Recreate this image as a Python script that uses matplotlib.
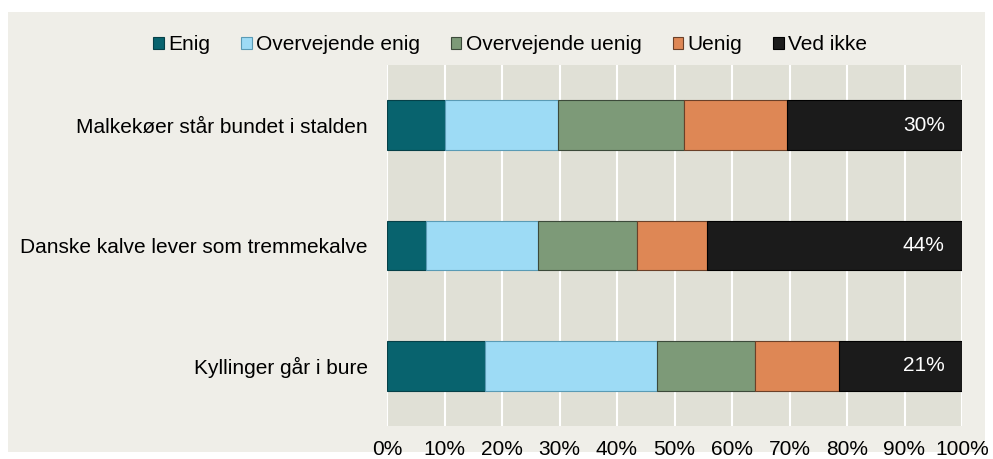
import matplotlib
matplotlib.use("Agg")
import matplotlib.pyplot as plt
from matplotlib.patches import Rectangle
import numpy as np

plt.rcParams['font.family'] = ['Liberation Sans', 'DejaVu Sans']

categories = ["Malkekøer står bundet i stalden",
              "Danske kalve lever som tremmekalve",
              "Kyllinger går i bure"]
series_names = ["Enig", "Overvejende enig", "Overvejende uenig", "Uenig", "Ved ikke"]
enig = [10.0, 6.8, 17.0]
overv_enig = [19.7, 19.5, 30.0]
overv_uenig = [22.0, 17.2, 17.0]
uenig = [17.9, 12.1, 14.6]
ved_ikke = [30.4, 44.4, 21.4]
xtick_labels = ["0%", "10%", "20%", "30%", "40%", "50%", "60%", "70%", "80%", "90%", "100%"]

colors = ["#08636E", "#9DDBF5", "#7D9A78", "#DE8755", "#1B1B1B"]
edges = ["#054048", "#5a9bb5", "#3c4a3a", "#6b4028", "#000000"]

fig = plt.figure(figsize=(9.93, 4.59), dpi=100, facecolor="white")
fig.patches.append(Rectangle((8/993, 7/459), 977/993, 440/459, transform=fig.transFigure,
                             facecolor="#EFEEE8", edgecolor="none", zorder=-10))
ax = fig.add_axes([387/993, 1 - 426/459, 575/993, 361/459])
ax.set_facecolor("#E0E0D6")

y = np.arange(len(categories))
left = np.zeros(len(categories))
all_series = [enig, overv_enig, overv_uenig, uenig, ved_ikke]
for name, vals, c, ec in zip(series_names, all_series, colors, edges):
    ax.barh(y, vals, left=left, height=0.41, color=c, edgecolor=ec, linewidth=0.8,
            label=name, zorder=3)
    left = left + np.array(vals)

for i, v in enumerate(ved_ikke):
    ax.text(97, y[i], f"{v:.0f}%", color="white", ha="right", va="center",
            fontsize=15, zorder=5)

ax.set_xlim(0, 100)
ax.set_ylim(2.5, -0.5)
ax.set_xticks(np.arange(0, 101, 10))
ax.set_xticklabels(xtick_labels, fontsize=15)
ax.set_yticks(y)
ax.set_yticklabels(categories, fontsize=15)
ax.tick_params(axis="both", length=0)
ax.tick_params(axis="x", pad=10)
ax.tick_params(axis="y", pad=14)
ax.grid(axis="x", color="white", linewidth=1.5, zorder=1)
ax.set_axisbelow(True)
for s in ax.spines.values():
    s.set_visible(False)

fig.legend(loc="center", bbox_to_anchor=(510/993, 1 - 45/459), ncol=5, frameon=False,
           fontsize=15, handlelength=0.5, handleheight=0.5, handletextpad=0.2,
           columnspacing=1.5)

fig.savefig("out.png", dpi=100, facecolor=fig.get_facecolor())
